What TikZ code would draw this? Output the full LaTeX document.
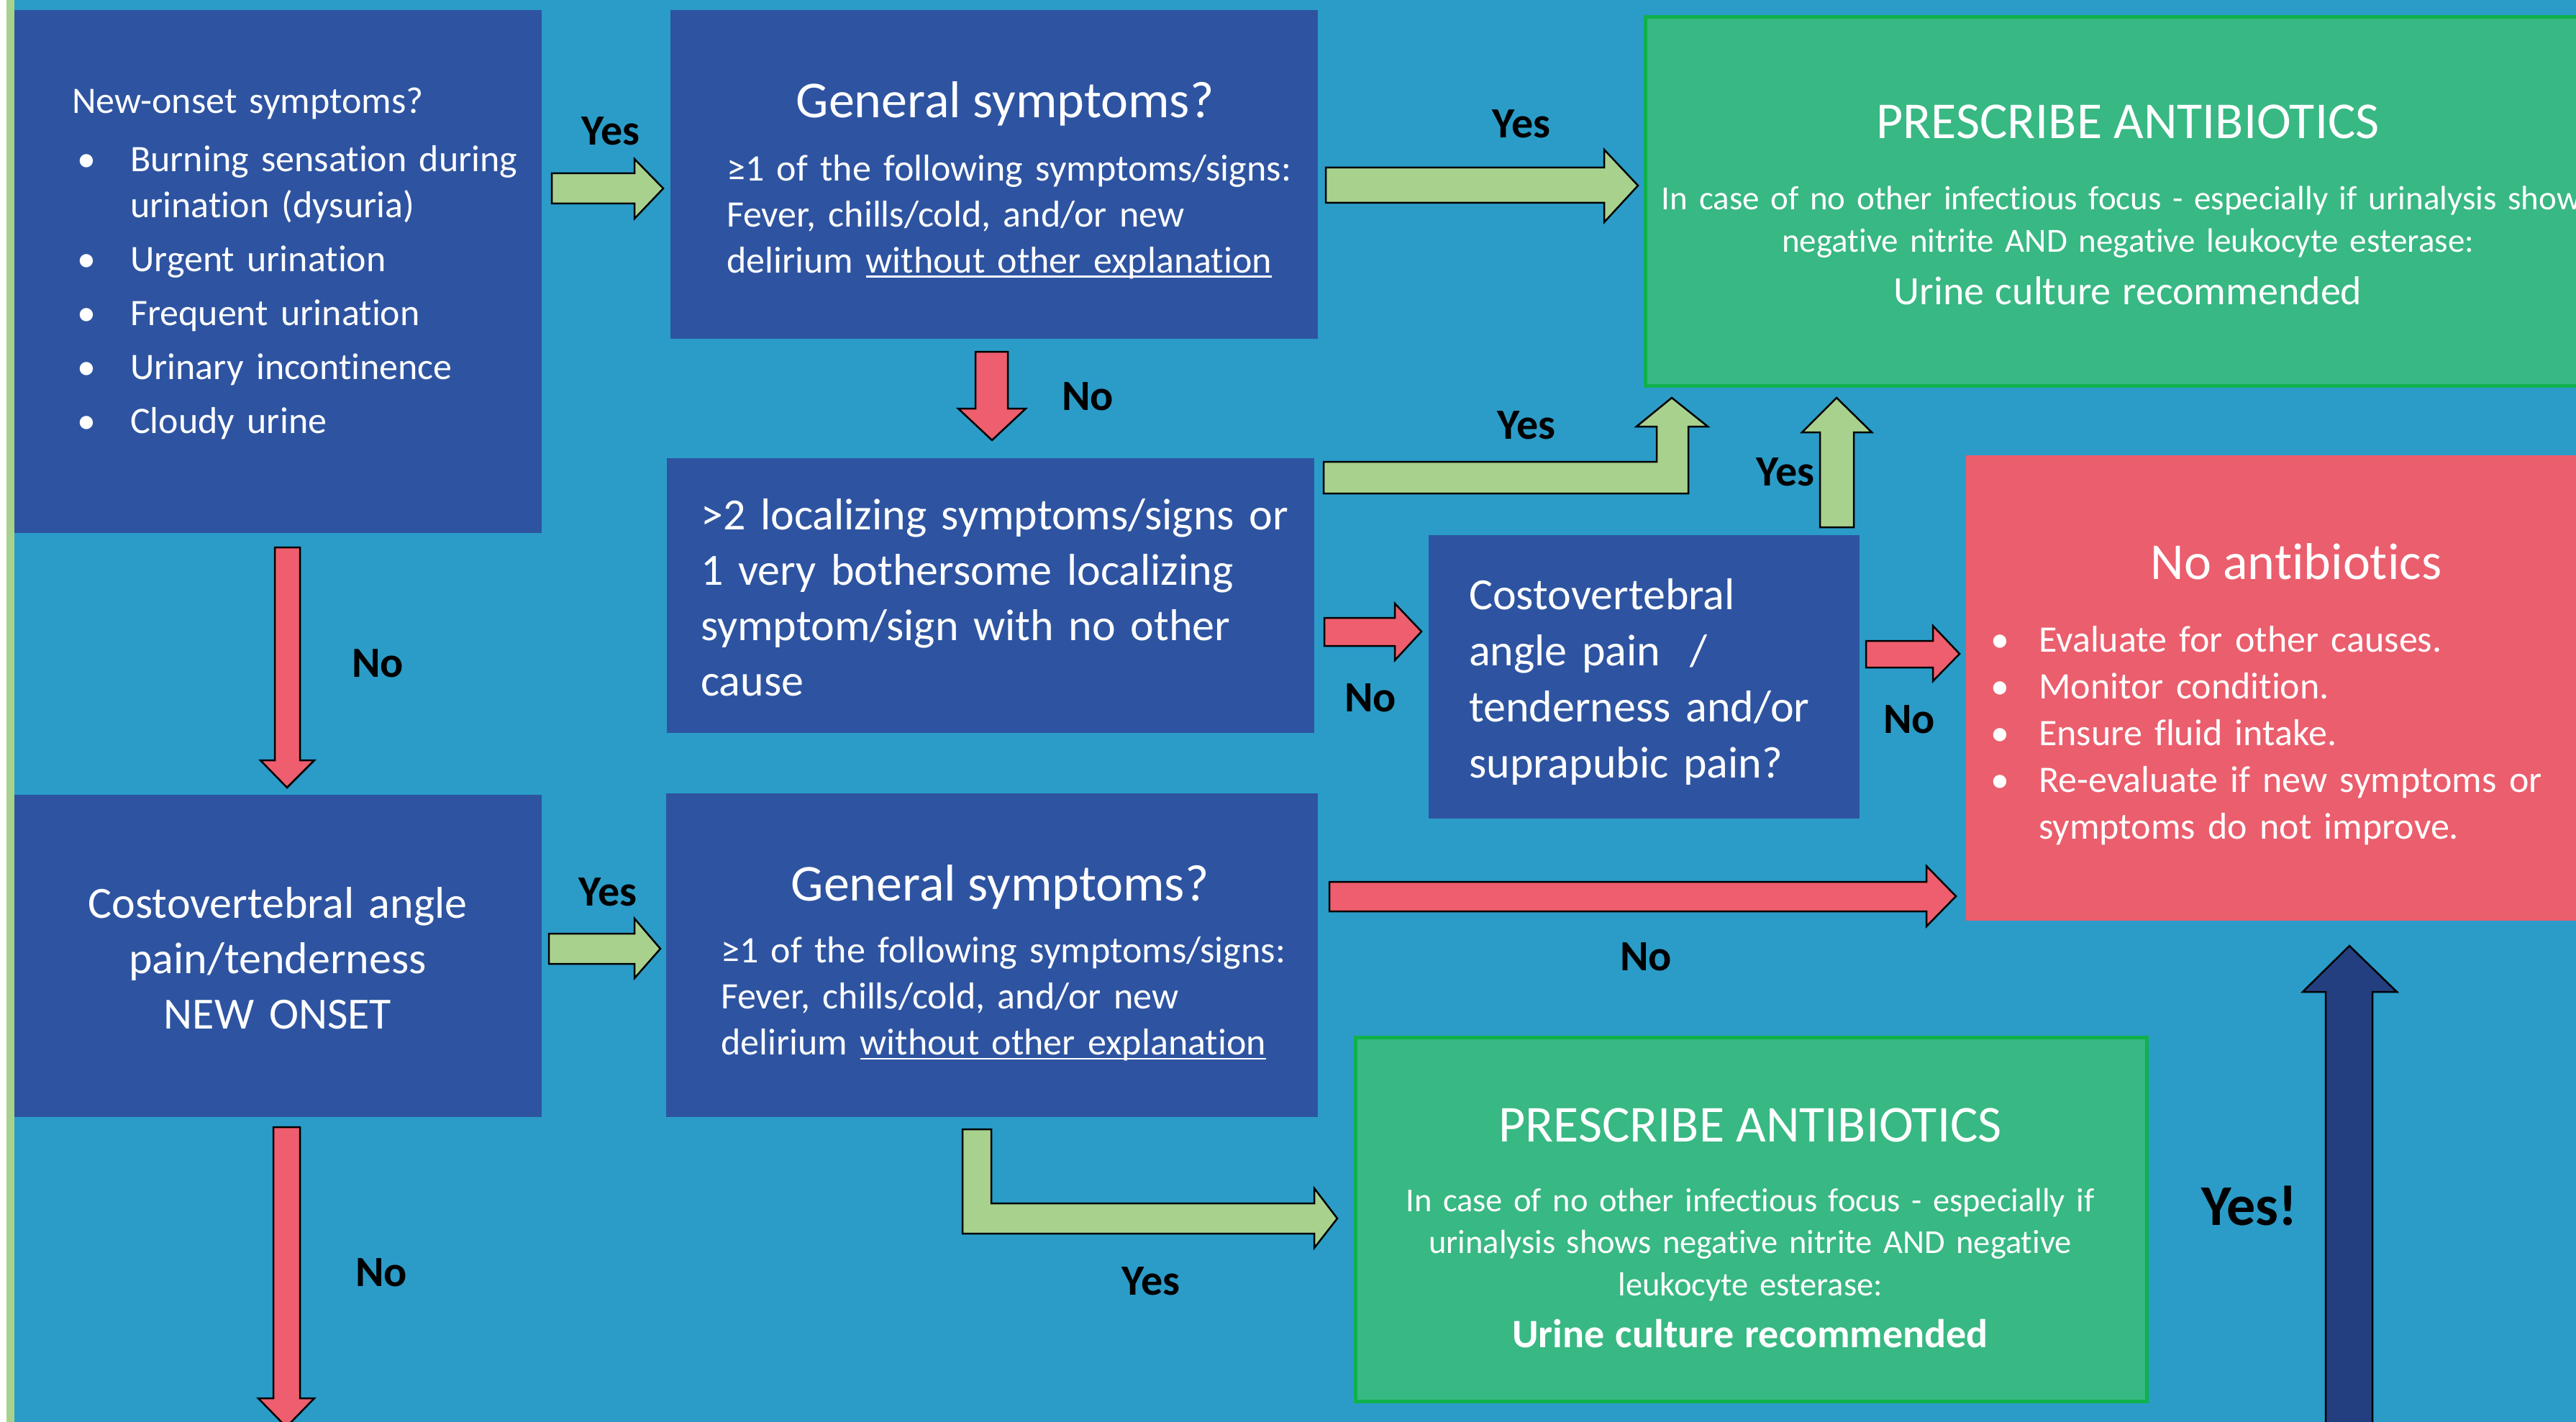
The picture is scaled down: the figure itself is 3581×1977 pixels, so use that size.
\documentclass[tikz,border=0pt]{standalone}
\usepackage{fontspec}
\setmainfont{Carlito}[Ligatures=CommonOff]
\definecolor{bgblue}{HTML}{2B9CC8}
\definecolor{boxblue}{HTML}{2E54A1}
\definecolor{boxgreen}{HTML}{38B883}
\definecolor{linegreen}{HTML}{10B14C}
\definecolor{boxred}{HTML}{EB5E6D}
\definecolor{arrgreen}{HTML}{A9D18E}
\definecolor{arrred}{HTML}{EE5E6E}
\definecolor{arrnavy}{HTML}{243F80}
\newcommand{\fs}[2]{\fontsize{#1pt}{#2pt}\selectfont}
\newcommand{\bitem}[2]{\makebox[#1][l]{\hspace*{#2}\textbullet}}
\newsavebox{\ulinebox}
\newcommand{\undertext}[1]{\sbox{\ulinebox}{#1}\rlap{\rule[-7pt]{\wd\ulinebox}{2.5pt}}\usebox{\ulinebox}}
\begin{document}
\begin{tikzpicture}[x=1pt, y=-1pt, line join=miter,
  box/.style={rectangle, anchor=north west, inner sep=0pt},
  bluebox/.style={box, fill=boxblue},
  greenbox/.style={box, fill=boxgreen, draw=linegreen, line width=5pt},
  redbox/.style={box, fill=boxred},
  txt/.style={inner sep=0pt, text=white, anchor=base west, align=left},
  ctxt/.style={inner sep=0pt, text=white, anchor=base, align=center},
  lbl/.style={inner sep=0pt, font=\fs{60}{72}\bfseries, text=black},
  blockarrow/.style={draw=black, line width=2.5pt},
  greenarrow/.style={blockarrow, fill=arrgreen},
  redarrow/.style={blockarrow, fill=arrred},
  navyarrow/.style={blockarrow, fill=arrnavy}]
  % background
  \fill [bgblue] (0,0) rectangle (3581,1977);
  \useasboundingbox (0,0) rectangle (3581,1977);
  \fill [white] (0,0) rectangle (9,1977);
  \fill [arrgreen] (9,0) rectangle (20,1977);

  % boxes
  \node [bluebox, minimum width=733pt, minimum height=727pt] (newonset) at (20,14) {};
  \node [bluebox, minimum width=900pt, minimum height=457pt] (gensym1) at (932,14) {};
  \node [greenbox, minimum width=1346pt, minimum height=513pt] (abx1) at (2285,21) {};
  \node [bluebox, minimum width=900pt, minimum height=382pt] (localizing) at (927,637) {};
  \node [bluebox, minimum width=599pt, minimum height=394pt] (cva) at (1986,744) {};
  \node [redbox, minimum width=918pt, minimum height=647pt] (noabx) at (2733,633) {};
  \node [bluebox, minimum width=733pt, minimum height=448pt] (cvanew) at (20,1105) {};
  \node [bluebox, minimum width=906pt, minimum height=450pt] (gensym2) at (926,1103) {};
  \node [greenbox, minimum width=1100pt, minimum height=506pt] (abx2) at (1882,1440) {};

  % texts
  \node [txt, text width=700pt, font=\fs{52}{64}] (newonsettxt) at (100,158) {New-onset symptoms?\\[17pt]
    \bitem{81pt}{7pt}Burning sensation during\\
    \hspace*{81pt}urination (dysuria)\\[11pt]
    \bitem{81pt}{7pt}Urgent urination\\[11pt]
    \bitem{81pt}{7pt}Frequent urination\\[11pt]
    \bitem{81pt}{7pt}Urinary incontinence\\[11pt]
    \bitem{81pt}{7pt}Cloudy urine};
  \node [ctxt, font=\fs{72}{86}] (gensym1title) at (1397,164) {General symptoms?};
  \node [txt, text width=850pt, font=\fs{52}{63.5}] (gensym1txt) at (1010,252) {≥1 of the following symptoms/signs:\\
    Fever, chills/cold, and/or new\\
    delirium \undertext{without other explanation}};
  \node [ctxt, font=\fs{72}{86}] (abx1title) at (2958,193) {PRESCRIBE ANTIBIOTICS};
  \node [ctxt, text width=1500pt, font=\fs{47}{59}] (abx1txt) at (2958,291) {In case of no other infectious focus - especially if urinalysis shows\\
    negative nitrite AND negative leukocyte esterase:\\[14pt]
    {\fs{56}{67}Urine culture recommended}};
  \node [txt, text width=880pt, font=\fs{62}{77}] (localizingtxt) at (974,736) {>2 localizing symptoms/signs or\\
    1 very bothersome localizing\\
    symptom/sign with no other\\
    cause};
  \node [txt, text width=560pt, font=\fs{62}{78}] (cvatxt) at (2042,847) {Costovertebral\\
    angle pain\ \ /\\
    tenderness and/or\\
    suprapubic pain?};
  \node [ctxt, font=\fs{72}{86}] (noabxtitle) at (3192,805) {No antibiotics};
  \node [txt, text width=900pt, font=\fs{52}{65}] (noabxtxt) at (2767,906) {\bitem{67pt}{0pt}Evaluate for other causes.\\
    \bitem{67pt}{0pt}Monitor condition.\\
    \bitem{67pt}{0pt}Ensure fluid intake.\\
    \bitem{67pt}{0pt}Re-evaluate if new symptoms or\\
    \hspace*{67pt}symptoms do not improve.};
  \node [ctxt, text width=700pt, font=\fs{62}{77}] (cvanewtxt) at (386,1276) {Costovertebral angle\\
    pain/tenderness\\
    NEW ONSET};
  \node [ctxt, font=\fs{72}{86}] (gensym2title) at (1390,1252) {General symptoms?};
  \node [txt, text width=850pt, font=\fs{52}{64}] (gensym2txt) at (1002,1338) {≥1 of the following symptoms/signs:\\
    Fever, chills/cold, and/or new\\
    delirium \undertext{without other explanation}};
  \node [ctxt, font=\fs{72}{86}] (abx2title) at (2433,1587) {PRESCRIBE ANTIBIOTICS};
  \node [ctxt, text width=1100pt, font=\fs{46.5}{58.5}] (abx2txt) at (2433,1684) {In case of no other infectious focus - especially if\\
    urinalysis shows negative nitrite AND negative\\
    leukocyte esterase:\\[14pt]
    {\fs{56}{67}\bfseries Urine culture recommended}};

  % block arrows
  \draw [greenarrow] (767,241)--(882,241)--(882,221)--(922,262)--(882,304)--(882,283)--(767,283)--cycle;
  \draw [greenarrow] (1843,233)--(2230,233)--(2230,208)--(2277,258)--(2230,309)--(2230,282)--(1843,282)--cycle;
  \draw [redarrow] (1356,489)--(1401,489)--(1401,568)--(1426,568)--(1379,612)--(1332,568)--(1356,568)--cycle;
  \draw [greenarrow] (1840,642)--(2303,642)--(2303,593)--(2275,593)--(2324,553)--(2374,593)--(2347,593)--(2347,686)--(1840,686)--cycle;
  \draw [greenarrow] (2530,733)--(2530,601)--(2505,601)--(2553,553)--(2602,601)--(2577,601)--(2577,733)--cycle;
  \draw [redarrow] (1841,859)--(1939,859)--(1939,839)--(1976,878)--(1939,918)--(1939,898)--(1841,898)--cycle;
  \draw [redarrow] (2594,891)--(2687,891)--(2687,870)--(2724,909)--(2687,947)--(2687,928)--(2594,928)--cycle;
  \draw [redarrow] (382,761)--(417,761)--(417,1057)--(437,1057)--(399,1095)--(362,1057)--(382,1057)--cycle;
  \draw [greenarrow] (763,1298)--(882,1298)--(882,1277)--(918,1319)--(882,1360)--(882,1340)--(763,1340)--cycle;
  \draw [redarrow] (1848,1226)--(2678,1226)--(2678,1204)--(2719,1246)--(2678,1288)--(2678,1267)--(1848,1267)--cycle;
  \draw [greenarrow] (1338,1570)--(1378,1570)--(1378,1673)--(1827,1673)--(1827,1652)--(1859,1694)--(1827,1735)--(1827,1715)--(1338,1715)--cycle;
  \draw [navyarrow] (3233,1995)--(3233,1379)--(3201,1379)--(3266,1315)--(3332,1379)--(3298,1379)--(3298,1995)--cycle;
  \draw [redarrow] (380,1567)--(417,1567)--(417,1944)--(437,1944)--(398,1984)--(359,1944)--(380,1944)--cycle;

  % labels
  \node [lbl] (yesA) at (849,182) {Yes};
  \node [lbl] (yesB) at (2115,172) {Yes};
  \node [lbl] (noB) at (1512,551) {No};
  \node [lbl] (yesD) at (2122,591) {Yes};
  \node [lbl] (yesE) at (2482,656) {Yes};
  \node [lbl] (noD) at (1905,970) {No};
  \node [lbl] (noE) at (2654,1000) {No};
  \node [lbl] (noA) at (525,922) {No};
  \node [lbl] (yesG) at (845,1240) {Yes};
  \node [lbl] (noH) at (2288,1330) {No};
  \node [lbl] (yesH) at (1600,1781) {Yes};
  \node [lbl, font=\fs{80}{96}\bfseries] (yesbang) at (3127,1676) {Yes!};
  \node [lbl] (noG) at (530,1769) {No};
\end{tikzpicture}
\end{document}
